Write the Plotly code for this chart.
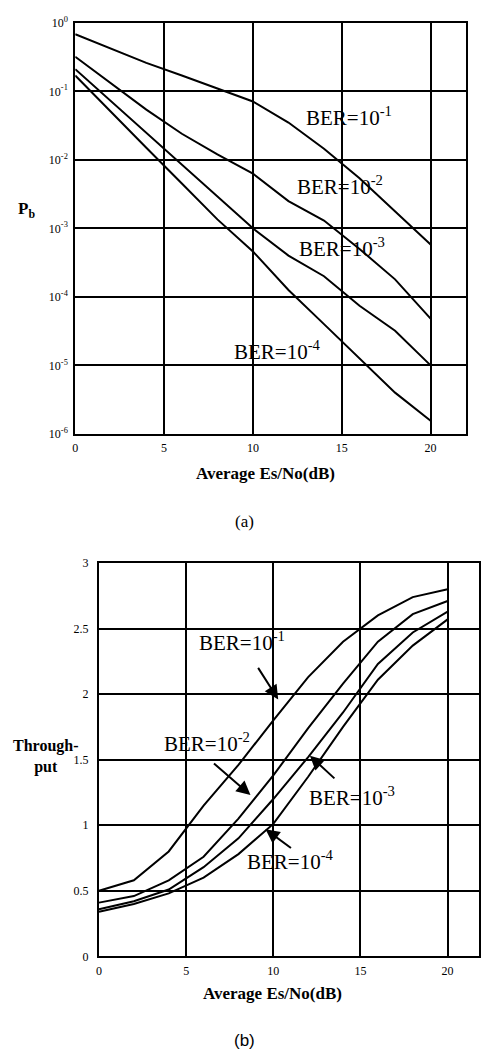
import plotly.graph_objects as go

W, H = 481, 1058

# ---- data -------------------------------------------------------------
snr_db = [0, 2, 4, 6, 8, 10, 12, 14, 16, 18, 20]

# (a) bit error probability Pb
pb_ber_1e1 = [0.68, 0.42, 0.26, 0.17, 0.11, 0.071, 0.035, 0.0145, 0.0054, 0.0018, 0.00058]
pb_ber_1e2 = [0.32, 0.13, 0.054, 0.024, 0.012, 0.0063, 0.0025, 0.0013, 0.0005, 0.00018, 0.000048]
pb_ber_1e3 = [0.21, 0.072, 0.025, 0.0087, 0.003, 0.001, 0.0004, 0.0002, 0.000074, 0.000032, 0.00001]
pb_ber_1e4 = [0.17, 0.05, 0.015, 0.0045, 0.00135, 0.00046, 0.000126, 0.00004, 0.0000126, 0.000004, 0.00000155]

# (b) throughput
tp_ber_1e1 = [0.50, 0.58, 0.80, 1.15, 1.46, 1.80, 2.13, 2.40, 2.60, 2.74, 2.80]
tp_ber_1e2 = [0.41, 0.46, 0.58, 0.76, 1.05, 1.38, 1.74, 2.08, 2.40, 2.61, 2.71]
tp_ber_1e3 = [0.36, 0.42, 0.51, 0.68, 0.90, 1.20, 1.52, 1.86, 2.23, 2.47, 2.63]
tp_ber_1e4 = [0.34, 0.40, 0.48, 0.60, 0.78, 1.01, 1.37, 1.75, 2.11, 2.37, 2.57]

x_ticks = [0, 5, 10, 15, 20]
pb_tickvals = [1, 1e-1, 1e-2, 1e-3, 1e-4, 1e-5, 1e-6]
pb_ticktext = ["10<sup>0</sup>", "10<sup>-1</sup>", "10<sup>-2</sup>", "10<sup>-3</sup>",
               "10<sup>-4</sup>", "10<sup>-5</sup>", "10<sup>-6</sup>"]
tp_tickvals = [0, 0.5, 1, 1.5, 2, 2.5, 3]
tp_ticktext = ["0", "0.5", "1", "1.5", "2", "2.5", "3"]

labels = ["BER=10<sup>-1</sup>", "BER=10<sup>-2</sup>", "BER=10<sup>-3</sup>", "BER=10<sup>-4</sup>"]

# ---- figure -----------------------------------------------------------
SERIF = "Liberation Serif"
fig = go.Figure()
line = dict(color="black", width=2)
for ys in [pb_ber_1e1, pb_ber_1e2, pb_ber_1e3, pb_ber_1e4]:
    fig.add_trace(go.Scatter(x=snr_db, y=ys, mode="lines", line=line,
                             xaxis="x", yaxis="y", showlegend=False, hoverinfo="skip"))
for ys in [tp_ber_1e1, tp_ber_1e2, tp_ber_1e3, tp_ber_1e4]:
    fig.add_trace(go.Scatter(x=snr_db, y=ys, mode="lines", line=line,
                             xaxis="x2", yaxis="y2", showlegend=False, hoverinfo="skip"))

tickfont = dict(family=SERIF, size=12, color="black")
ax_common = dict(showgrid=True, gridcolor="black", gridwidth=1.5, showline=True,
                 linecolor="black", linewidth=2, mirror=True, zeroline=False,
                 ticks="", tickfont=tickfont)

def px(x):
    return x / W

def py(y):
    return 1 - y / H

fig.update_layout(
    width=W, height=H,
    margin=dict(l=0, r=0, t=0, b=0),
    paper_bgcolor="white", plot_bgcolor="white",
    xaxis=dict(domain=[px(73), px(468)], range=[0, 22], tickvals=x_ticks,
               anchor="y", ticklabelstandoff=2, **ax_common),
    yaxis=dict(domain=[py(432), py(15)], type="log", range=[-6, 0],
               tickvals=pb_tickvals, ticktext=pb_ticktext, anchor="x",
               ticklabelstandoff=3, **ax_common),
    xaxis2=dict(domain=[px(97), 1.0], range=[0, 21.8], tickvals=x_ticks,
                anchor="y2", ticklabelstandoff=2, **ax_common),
    yaxis2=dict(domain=[py(962), py(563)], range=[0, 3], tickvals=tp_tickvals,
                ticktext=tp_ticktext, anchor="x2", ticklabelstandoff=6, **ax_common),
)

ann = []
big = dict(family=SERIF, size=21, color="black")
# labels in (a) (log axis -> y given as exponent)
for txt, xx, yy in zip(labels, [15.4, 14.9, 15.0, 11.4], [-1.37, -2.37, -3.28, -4.78]):
    ann.append(dict(text=txt, x=xx, y=yy, xref="x", yref="y", showarrow=False,
                    font=big, xanchor="center", yanchor="middle"))
# labels in (b)
for txt, xx, yy in zip(labels, [8.2, 6.2, 14.5, 11.0], [2.40, 1.63, 1.22, 0.73]):
    ann.append(dict(text=txt, x=xx, y=yy, xref="x2", yref="y2", showarrow=False,
                    font=big, xanchor="center", yanchor="middle"))
# arrows in (b)
for hx, hy, axo, ayo in [(10.28, 1.96, -21, -33), (8.69, 1.23, -38, -33),
                         (12.1, 1.53, 26, 24), (9.55, 0.97, 27, 20)]:
    ann.append(dict(text="", x=hx, y=hy, xref="x2", yref="y2", showarrow=True,
                    ax=axo, ay=ayo, arrowhead=2, arrowsize=1.4, arrowwidth=2,
                    arrowcolor="black"))

bold = dict(family=SERIF, size=17, color="black")
def paper_text(text, x, y, font):
    return dict(text=text, x=px(x), y=py(y), xref="paper", yref="paper",
                showarrow=False, font=font, xanchor="center", yanchor="middle")

ann += [
    paper_text("<b>P<sub>b</sub></b>", 24, 205, bold),
    paper_text("<b>Average Es/No(dB)</b>", 265, 472, bold),
    paper_text("(a)", 244, 521, dict(family=SERIF, size=17, color="black")),
    paper_text("<b>Through-<br>put</b>", 43, 759, dict(family=SERIF, size=16, color="black")),
    paper_text("<b>Average Es/No(dB)</b>", 272, 1000, bold),
    paper_text("(b)", 244, 1047, dict(family="Liberation Sans", size=17, color="black")),
]
fig.update_layout(annotations=ann)

fig.write_html("out.html", config={"displayModeBar": False},
               post_script="document.body.style.margin='0px';document.body.style.overflow='hidden';")
